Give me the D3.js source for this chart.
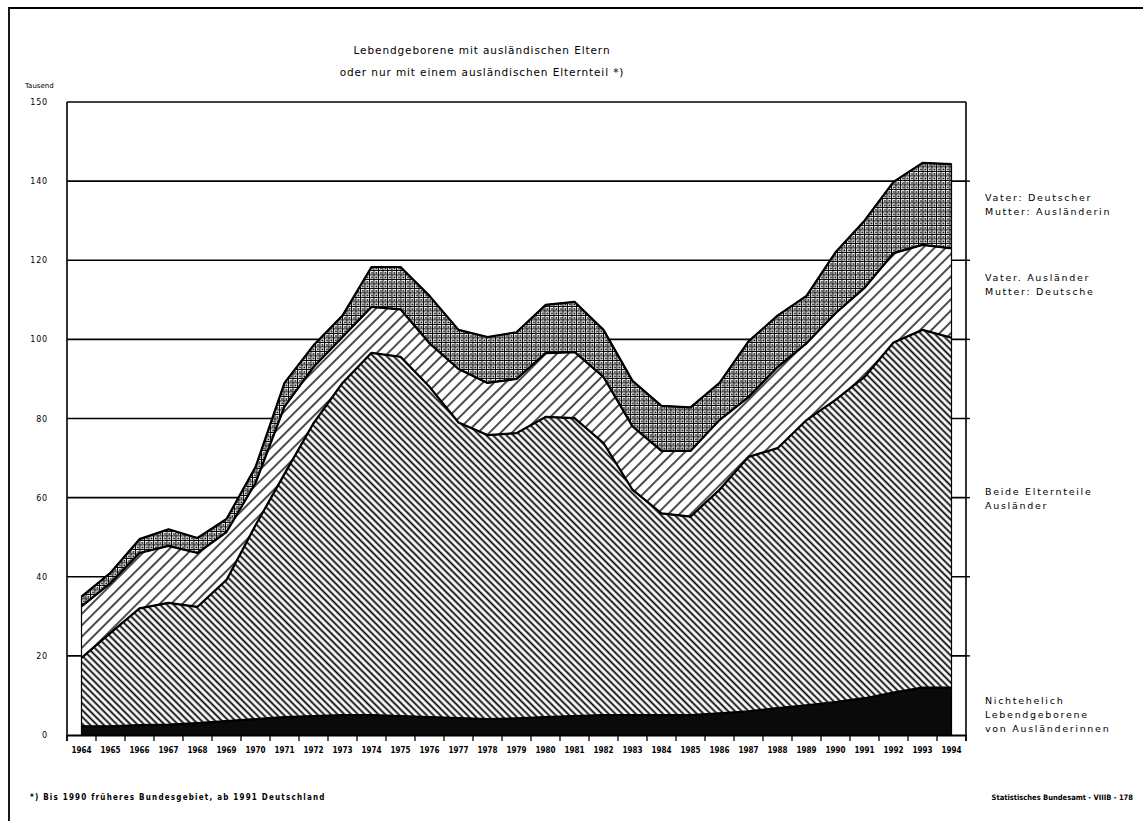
<!DOCTYPE html>
<html>
<head>
<meta charset="utf-8">
<script src="https://cdn.jsdelivr.net/npm/d3@7"></script>
<style>
  body { margin: 0; background: #fff; }
  svg { display: block; }
</style>
</head>
<body>
<div id="chart"></div>
<script>
// Lebendgeborene mit ausländischen Eltern, Tausend
const years = [1964, 1965, 1966, 1967, 1968, 1969, 1970, 1971, 1972, 1973, 1974,
  1975, 1976, 1977, 1978, 1979, 1980, 1981, 1982, 1983, 1984, 1985, 1986, 1987,
  1988, 1989, 1990, 1991, 1992, 1993, 1994];

const nichtehelich = [2.2, 2.2, 2.5, 2.6, 3.0, 3.5, 4.0, 4.5, 4.8, 5.0, 5.0,
  4.8, 4.5, 4.3, 4.0, 4.2, 4.5, 4.8, 5.0, 5.0, 5.0, 5.0, 5.5, 6.0,
  6.8, 7.5, 8.3, 9.3, 10.7, 12.0, 12.0];

const beideAuslaender = [17.3, 23.6, 29.5, 30.8, 29.4, 35.7, 49.0, 61.5, 74.0, 84.0, 91.6,
  90.8, 83.5, 74.7, 71.8, 72.1, 75.9, 75.3, 68.8, 57.0, 51.0, 50.2, 56.5, 64.3,
  65.7, 72.1, 76.4, 81.2, 88.5, 90.4, 88.4];

const vaterAuslaender = [13.0, 12.6, 14.0, 14.4, 13.6, 12.1, 10.7, 17.0, 14.2, 11.6, 11.6,
  12.0, 11.0, 13.5, 13.2, 13.7, 16.1, 16.7, 16.7, 16.0, 15.8, 16.6, 17.6, 15.1,
  20.5, 19.4, 21.9, 22.5, 22.6, 21.5, 22.6];

const vaterDeutscher = [2.5, 2.6, 3.5, 4.2, 3.8, 3.3, 4.0, 6.0, 5.5, 5.4, 10.1,
  10.7, 12.0, 9.9, 11.6, 11.8, 12.2, 12.7, 11.9, 11.5, 11.4, 11.0, 9.4, 14.1,
  13.0, 12.0, 15.4, 17.0, 18.0, 20.7, 21.3];

const seriesKeys = ["nichtehelich", "beide", "vaterAusl", "vaterDeut"];

const yTickValues = [0, 20, 40, 60, 80, 100, 120, 140, 160];
const yTickLabels = ["0", "20", "40", "60", "80", "100", "120", "140", "150"];

const legendLabels = [
  ["Vater: Deutscher", "Mutter: Ausländerin"],
  ["Vater. Ausländer", "Mutter: Deutsche"],
  ["Beide Elternteile", "Ausländer"],
  ["Nichtehelich", "Lebendgeborene", "von Ausländerinnen"]
];

const titleLines = [
  "Lebendgeborene mit ausländischen Eltern",
  "oder nur mit einem ausländischen Elternteil *)"
];

const W = 1143, H = 821;
const plot = { left: 67, right: 966, top: 102, bottom: 735 };

const svg = d3.select("#chart").append("svg")
  .attr("width", W)
  .attr("height", H)
  .attr("viewBox", `0 0 ${W} ${H}`);

const rows = years.map((yr, i) => ({
  year: yr,
  nichtehelich: nichtehelich[i],
  beide: beideAuslaender[i],
  vaterAusl: vaterAuslaender[i],
  vaterDeut: vaterDeutscher[i],
}));

const x = d3.scaleBand()
  .domain(years)
  .range([plot.left, plot.right])
  .padding(0);

const xc = d => x(d) + x.bandwidth() / 2;

const y = d3.scaleLinear()
  .domain([0, 160])
  .range([plot.bottom, plot.top]);

const stacked = d3.stack().keys(seriesKeys)(rows);

// patterns
const defs = svg.append("defs");

const pBack = defs.append("pattern")
  .attr("id", "hatchBack")
  .attr("patternUnits", "userSpaceOnUse")
  .attr("width", 4.8).attr("height", 10)
  .attr("patternTransform", "rotate(-45)");
pBack.append("rect").attr("width", 4.8).attr("height", 10).attr("fill", "#fff");
pBack.append("line")
  .attr("x1", 2.4).attr("y1", 0).attr("x2", 2.4).attr("y2", 10)
  .attr("stroke", "#000").attr("stroke-width", 1.8);

const pFwd = defs.append("pattern")
  .attr("id", "hatchFwd")
  .attr("patternUnits", "userSpaceOnUse")
  .attr("width", 8).attr("height", 10)
  .attr("patternTransform", "rotate(45)");
pFwd.append("rect").attr("width", 8).attr("height", 10).attr("fill", "#fff");
pFwd.append("line")
  .attr("x1", 4).attr("y1", 0).attr("x2", 4).attr("y2", 10)
  .attr("stroke", "#000").attr("stroke-width", 1.4);

const pDot = defs.append("pattern")
  .attr("id", "dots")
  .attr("patternUnits", "userSpaceOnUse")
  .attr("width", 4.5).attr("height", 4.5);
pDot.append("rect").attr("width", 4.5).attr("height", 4.5).attr("fill", "#fff");
pDot.append("path")
  .attr("d", "M0,0.5H4.5M0.5,0V4.5")
  .attr("stroke", "#000").attr("stroke-width", 1);
pDot.append("rect")
  .attr("x", 2.1).attr("y", 2.1).attr("width", 1.8).attr("height", 1.8)
  .attr("fill", "#000");

const fills = {
  nichtehelich: "#0a0a0a",
  beide: "url(#hatchBack)",
  vaterAusl: "url(#hatchFwd)",
  vaterDeut: "url(#dots)",
};

// gridlines
const grid = svg.append("g");
grid.selectAll("line")
  .data(yTickValues.filter(v => v > 0 && v < 160))
  .join("line")
  .attr("x1", plot.left).attr("x2", plot.right)
  .attr("y1", d => y(d)).attr("y2", d => y(d))
  .attr("stroke", "#000")
  .attr("stroke-width", 1.6);

// areas
const area = d3.area()
  .x(d => xc(d.data.year))
  .y0(d => y(d[0]))
  .y1(d => y(d[1]));

svg.append("g")
  .selectAll("path")
  .data(stacked)
  .join("path")
  .attr("d", area)
  .attr("fill", d => fills[d.key])
  .attr("stroke", "#000")
  .attr("stroke-width", 1.2)
  .attr("stroke-linejoin", "round");

const topLine = d3.line()
  .x(d => xc(d.data.year))
  .y(d => y(d[1]));

svg.append("g")
  .selectAll("path")
  .data(stacked)
  .join("path")
  .attr("d", topLine)
  .attr("fill", "none")
  .attr("stroke", "#000")
  .attr("stroke-width", 2.2)
  .attr("stroke-linejoin", "round");

// frame + axes
const frame = svg.append("g").attr("stroke", "#000").attr("fill", "none");
frame.append("line")
  .attr("x1", plot.left).attr("x2", plot.right)
  .attr("y1", plot.top).attr("y2", plot.top)
  .attr("stroke-width", 1.6);
frame.append("line")
  .attr("x1", plot.left).attr("x2", plot.left)
  .attr("y1", plot.top).attr("y2", plot.bottom + 6)
  .attr("stroke-width", 1.6);
frame.append("line")
  .attr("x1", plot.right).attr("x2", plot.right)
  .attr("y1", plot.top).attr("y2", plot.bottom + 6)
  .attr("stroke-width", 1.6);

// right-side tick marks
frame.selectAll(".rtick")
  .data(yTickValues.filter(v => v > 0 && v < 160))
  .join("line")
  .attr("x1", plot.right).attr("x2", plot.right + 4)
  .attr("y1", d => y(d)).attr("y2", d => y(d))
  .attr("stroke-width", 1.4);

// x axis: labels centred in bands, ticks on band edges
const xAxis = svg.append("g")
  .attr("transform", `translate(0,${plot.bottom})`)
  .call(d3.axisBottom(x).tickSize(0).tickPadding(12))
  .call(g => g.select(".domain").attr("stroke-width", 1.8));
xAxis.selectAll("text")
  .attr("font-family", "'DejaVu Sans Condensed', 'DejaVu Sans', sans-serif")
  .attr("font-weight", "bold")
  .attr("font-size", "8px")
  .attr("fill", "#000");

xAxis.selectAll(".edge")
  .data(years.concat([null]))
  .join("line")
  .attr("class", "edge")
  .attr("x1", d => d === null ? plot.right : x(d))
  .attr("x2", d => d === null ? plot.right : x(d))
  .attr("y1", 0).attr("y2", 6)
  .attr("stroke", "#000")
  .attr("stroke-width", 1.3);

// y axis labels
const yAxis = svg.append("g")
  .attr("transform", `translate(${plot.left},0)`)
  .call(d3.axisLeft(y)
    .tickValues(yTickValues)
    .tickSize(0)
    .tickPadding(19)
    .tickFormat((d, i) => yTickLabels[i]))
  .call(g => g.select(".domain").remove());
yAxis.selectAll("text")
  .attr("font-family", "'DejaVu Sans', sans-serif")
  .attr("font-size", "8px")
  .attr("letter-spacing", "0.8px")
  .attr("fill", "#000");

svg.append("text")
  .attr("x", 25).attr("y", 88)
  .attr("font-family", "'DejaVu Sans', sans-serif")
  .attr("font-size", "7px")
  .text("Tausend");

// title
svg.append("g")
  .selectAll("text")
  .data(titleLines)
  .join("text")
  .attr("x", 482)
  .attr("y", (d, i) => 54 + i * 22)
  .attr("text-anchor", "middle")
  .attr("font-family", "'DejaVu Sans', sans-serif")
  .attr("font-size", "10.5px")
  .attr("letter-spacing", "0.9px")
  .text(d => d);

// legend labels on the right
const legendY = [197, 277, 491, 700];
const legend = svg.append("g")
  .attr("font-family", "'DejaVu Sans', sans-serif")
  .attr("font-size", "9.5px")
  .attr("letter-spacing", "1.7px");
legendLabels.forEach((lines, k) => {
  lines.forEach((t, j) => {
    legend.append("text")
      .attr("x", 985)
      .attr("y", legendY[k] + 4 + j * 13.8)
      .text(t);
  });
});

// footer
const foot = svg.append("g")
  .attr("font-family", "'DejaVu Sans Condensed', 'DejaVu Sans', sans-serif")
  .attr("font-weight", "bold")
  .attr("font-size", "8px");
foot.append("text")
  .attr("x", 30).attr("y", 800)
  .attr("letter-spacing", "1.2px")
  .text("*) Bis 1990 früheres Bundesgebiet, ab 1991 Deutschland");
foot.append("text")
  .attr("x", 1133).attr("y", 800)
  .attr("text-anchor", "end")
  .attr("font-size", "7.5px")
  .text("Statistisches Bundesamt - VIIIB - 178");

// page border (top and left edges of the scanned sheet)
svg.append("path")
  .attr("d", `M${W},8H9V${H}`)
  .attr("fill", "none")
  .attr("stroke", "#000")
  .attr("stroke-width", 1.8);
</script>
</body>
</html>
